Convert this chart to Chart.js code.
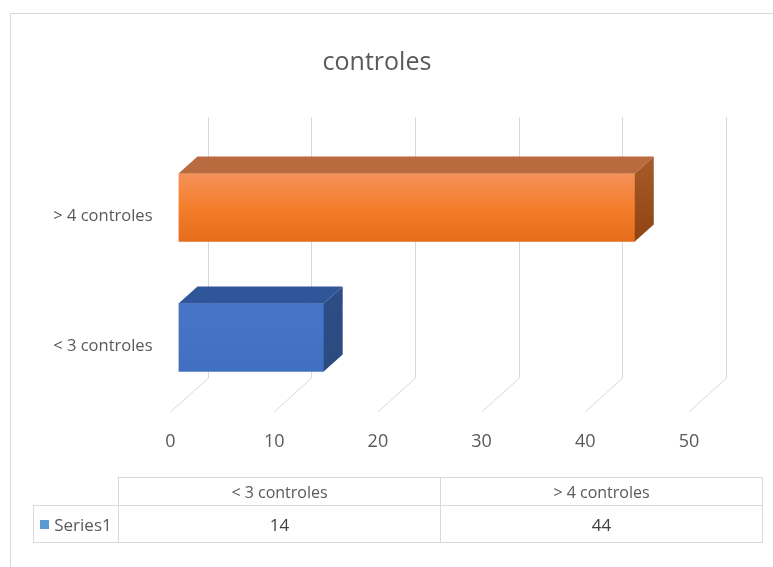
<!DOCTYPE html>
<html>
<head>
<meta charset="utf-8">
<script src="https://cdn.jsdelivr.net/npm/chart.js@4"></script>
<style>
  html,body{margin:0;padding:0;background:#fff;}
  #wrap{position:relative;width:773px;height:567px;overflow:hidden;background:#fff;}
  #frame{position:absolute;left:10px;top:13px;width:800px;height:600px;border-left:1px solid #d9d9d9;border-top:1px solid #d9d9d9;box-sizing:border-box;}
  #c{position:absolute;left:0;top:0;}
  #title{position:absolute;left:0;width:754px;top:43px;text-align:center;font:25px "Open Sans",sans-serif;color:#595959;}
  .cell{position:absolute;box-sizing:border-box;border:1px solid #d9d9d9;display:flex;align-items:center;justify-content:center;font-family:"Open Sans",sans-serif;color:#595959;white-space:nowrap;}
  .mk{display:inline-block;width:9px;height:9px;background:#5B9BD5;margin-right:5px;}
</style>
</head>
<body>
<div id="wrap">
  <div id="frame"></div>
  <canvas id="c" width="773" height="567"></canvas>
  <div id="title">controles</div>
  <div id="table"></div>
</div>
<script>
// ---- data ----
const categories = ['< 3 controles', '> 4 controles'];
const values = [14, 44];
const seriesName = 'Series1';
const tickValues = [0, 10, 20, 30, 40, 50];

// ---- styles ----
const frontTop  = ['#4674C6', '#F5915A'];
const frontMid  = ['#4472C4', '#F47E2C'];
const frontBot  = ['#4270C0', '#E56C1A'];
const topFace   = ['#30569A', '#B96B3F'];
const sideTop   = ['#2D4D86', '#A85B2C'];
const sideBot   = ['#2B4A80', '#8E4410'];
const DX = 19, DY = 17;

function frontColor(ctx){
  const chart = ctx.chart, i = ctx.dataIndex;
  if (!chart.chartArea || !chart.scales.y) return frontMid[i];
  const yc = chart.scales.y.getPixelForValue(i);
  const g = chart.ctx.createLinearGradient(0, yc - 34, 0, yc + 34);
  g.addColorStop(0, frontTop[i]);
  g.addColorStop(0.5, frontMid[i]);
  g.addColorStop(1, frontBot[i]);
  return g;
}

const wallPlugin = {
  id: 'wall',
  beforeDatasetsDraw(chart){
    const {ctx, chartArea, scales} = chart;
    const wallTop = chartArea.top - 25.5;
    const wallBot = chartArea.bottom - 24.5;
    const front = chartArea.bottom + 9.5;
    ctx.save();
    ctx.strokeStyle = '#d9d9d9';
    ctx.lineWidth = 1;
    tickValues.forEach(v => {
      const px = scales.x.getPixelForValue(v);
      const bx = Math.round(px + 29) + 0.5;
      ctx.beginPath();
      ctx.moveTo(bx, wallTop);
      ctx.lineTo(bx, wallBot);
      ctx.lineTo(px - 8, front);
      ctx.stroke();
    });
    ctx.restore();
  }
};

const bar3dPlugin = {
  id: 'bar3d',
  afterDatasetsDraw(chart){
    const {ctx} = chart;
    const meta = chart.getDatasetMeta(0);
    ctx.save();
    meta.data.forEach((el, i) => {
      const p = el.getProps(['x','y','base','height'], true);
      const l = Math.min(p.base, p.x), r = Math.max(p.base, p.x);
      const t = p.y - p.height/2, b = p.y + p.height/2;
      ctx.fillStyle = topFace[i];
      ctx.beginPath();
      ctx.moveTo(l, t); ctx.lineTo(l + DX, t - DY); ctx.lineTo(r + DX, t - DY); ctx.lineTo(r, t);
      ctx.closePath(); ctx.fill();
      const g = ctx.createLinearGradient(0, t - DY, 0, b);
      g.addColorStop(0, sideTop[i]); g.addColorStop(1, sideBot[i]);
      ctx.fillStyle = g;
      ctx.beginPath();
      ctx.moveTo(r, t); ctx.lineTo(r + DX, t - DY); ctx.lineTo(r + DX, b - DY); ctx.lineTo(r, b);
      ctx.closePath(); ctx.fill();
    });
    ctx.restore();
  }
};

new Chart(document.getElementById('c'), {
  type: 'bar',
  data: {
    labels: categories,
    datasets: [{
      label: seriesName,
      data: values,
      backgroundColor: frontColor,
      borderWidth: 0,
      barThickness: 68
    }]
  },
  options: {
    indexAxis: 'y',
    responsive: false,
    animation: false,
    layout: { padding: { left: 0, right: 76, top: 142.5, bottom: 104.5 } },
    plugins: { legend: { display: false }, title: { display: false }, tooltip: { enabled: false } },
    scales: {
      x: {
        min: 0, max: 50,
        afterBuildTicks: s => { s.ticks = tickValues.map(v => ({ value: v })); },
        afterFit: s => { s.height = 60; },
        grid: { display: false, drawTicks: false },
        border: { display: false },
        ticks: { labelOffset: -8, padding: 29, color: '#595959', maxRotation: 0,
                 font: { family: '"Open Sans", sans-serif', size: 18 } }
      },
      y: {
        reverse: true,
        afterFit: s => { s.width = 178.5; },
        grid: { display: false, drawTicks: false },
        border: { display: false },
        ticks: { labelOffset: 9, padding: 26, color: '#595959',
                 font: { family: '"Open Sans", sans-serif', size: 16.5 } }
      }
    }
  },
  plugins: [wallPlugin, bar3dPlugin]
});

// ---- data table ----
(function(){
  const host = document.getElementById('table');
  const left0 = 33, left1 = 118, right = 762, top0 = 477, top1 = 505, bot = 542;
  const colW = (right - left1) / categories.length;
  function cell(x, y, w, h, html, fs, color){
    const d = document.createElement('div');
    d.className = 'cell';
    d.style.left = x + 'px'; d.style.top = y + 'px';
    d.style.width = (w + 1) + 'px'; d.style.height = (h + 1) + 'px';
    d.style.fontSize = fs + 'px'; d.style.color = color;
    d.innerHTML = html;
    host.appendChild(d);
  }
  categories.forEach((c, i) => {
    const span = document.createElement('span'); span.textContent = c;
    cell(left1 + i*colW, top0, colW, top1 - top0, span.outerHTML, 16, '#595959');
  });
  cell(left0, top1, left1 - left0, bot - top1, '<span class="mk"></span>' + seriesName, 17, '#595959');
  values.forEach((v, i) => {
    cell(left1 + i*colW, top1, colW, bot - top1, String(v), 17, '#404040');
  });
})();
</script>
</body>
</html>
